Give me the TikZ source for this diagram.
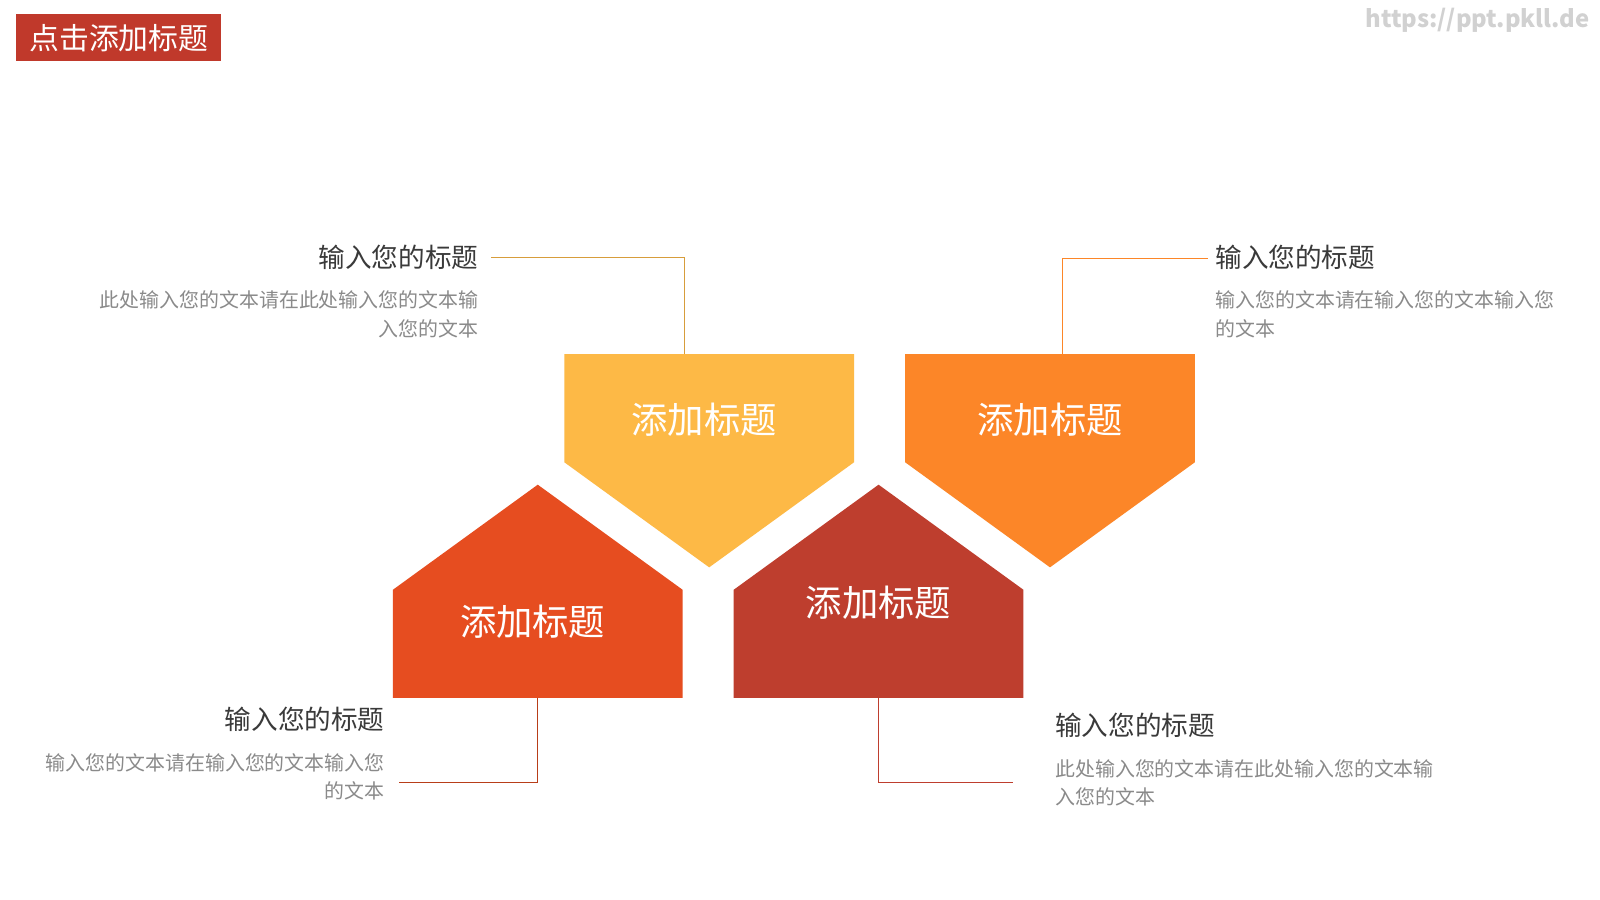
\documentclass[tikz,border=0pt]{standalone}
\usepackage{fontspec}
\setmainfont{Noto Sans CJK SC}
\definecolor{cy}{HTML}{FDB946}
\definecolor{co}{HTML}{FC8628}
\definecolor{cr}{HTML}{E64D20}
\definecolor{cd}{HTML}{BE3E2E}
\definecolor{ct}{HTML}{C0392B}
\definecolor{tg}{HTML}{3A3A3A}
\definecolor{bg}{HTML}{8A8A8A}
\begin{document}
\begin{tikzpicture}[x=0.030612cm,y=-0.030612cm,
  big/.style={text=white,font=\fontsize{31}{34}\selectfont},
  ttl/.style={text=tg,font=\fontsize{22.7}{26}\selectfont,inner sep=0},
  body/.style={text=bg,font=\fontsize{17}{24}\selectfont,inner sep=0},
  lnk/.style={line width=0.8pt}]
\useasboundingbox (0,0) rectangle (1568,882);
\fill[white] (0,0) rectangle (1568,882);
% title
\node[fill=ct,minimum width=201*0.030612cm,minimum height=46*0.030612cm,text=white,font=\fontsize{25.5}{28}\selectfont,inner sep=0] (title) at (116.5,37) {点击添加标题};
\node[anchor=east,text=black!18,font=\fontsize{20.3}{23}\selectfont\bfseries,inner sep=0] (wm) at (1558,20) {https://ppt.pkll.de};
% shapes
\fill[cy] (553,347) -- (837,347) -- (837,453) -- (695,556) -- (553,453) -- cycle;
\fill[co] (887,347) -- (1171,347) -- (1171,453) -- (1029,556) -- (887,453) -- cycle;
\fill[cr] (527,475) -- (669,578) -- (669,684) -- (385,684) -- (385,578) -- cycle;
\fill[cd] (861,475) -- (1003,578) -- (1003,684) -- (719,684) -- (719,578) -- cycle;
\node[big] (ty) at (690,411) {添加标题};
\node[big] (to) at (1029,411) {添加标题};
\node[big] (tr) at (522,609) {添加标题};
\node[big] (td) at (861,591) {添加标题};
\coordinate (cy1) at (671,347); \coordinate (cy2) at (481,252);
\coordinate (co1) at (1041,347); \coordinate (co2) at (1184,253);
\coordinate (cr1) at (527,684); \coordinate (cr2) at (391,767);
\coordinate (cd1) at (861,684); \coordinate (cd2) at (993,767);
\draw[lnk,cy!85!black] (cy1) |- (cy2);
\draw[lnk,co] (co1) |- (co2);
\draw[lnk,cr!80!black] (cr1) |- (cr2);
\draw[lnk,cd] (cd1) |- (cd2);
% texts
\node[ttl,anchor=east] (a1) at (469,252) {输入您的标题};
\node[body,anchor=north east,align=right] (b1) at (469,285) {此处输入您的文本请在此处输入您的文本输\\入您的文本};
\node[ttl,anchor=west] (a2) at (1191,252) {输入您的标题};
\node[body,anchor=north west,align=left] (b2) at (1191,285) {输入您的文本请在输入您的文本输入您\\的文本};
\node[ttl,anchor=east] (a3) at (377,705) {输入您的标题};
\node[body,anchor=north east,align=right] (b3) at (377,738) {输入您的文本请在输入您的文本输入您\\的文本};
\node[ttl,anchor=west] (a4) at (1034,711) {输入您的标题};
\node[body,anchor=north west,align=left] (b4) at (1034,744) {此处输入您的文本请在此处输入您的文本输\\入您的文本};
\end{tikzpicture}
\end{document}
